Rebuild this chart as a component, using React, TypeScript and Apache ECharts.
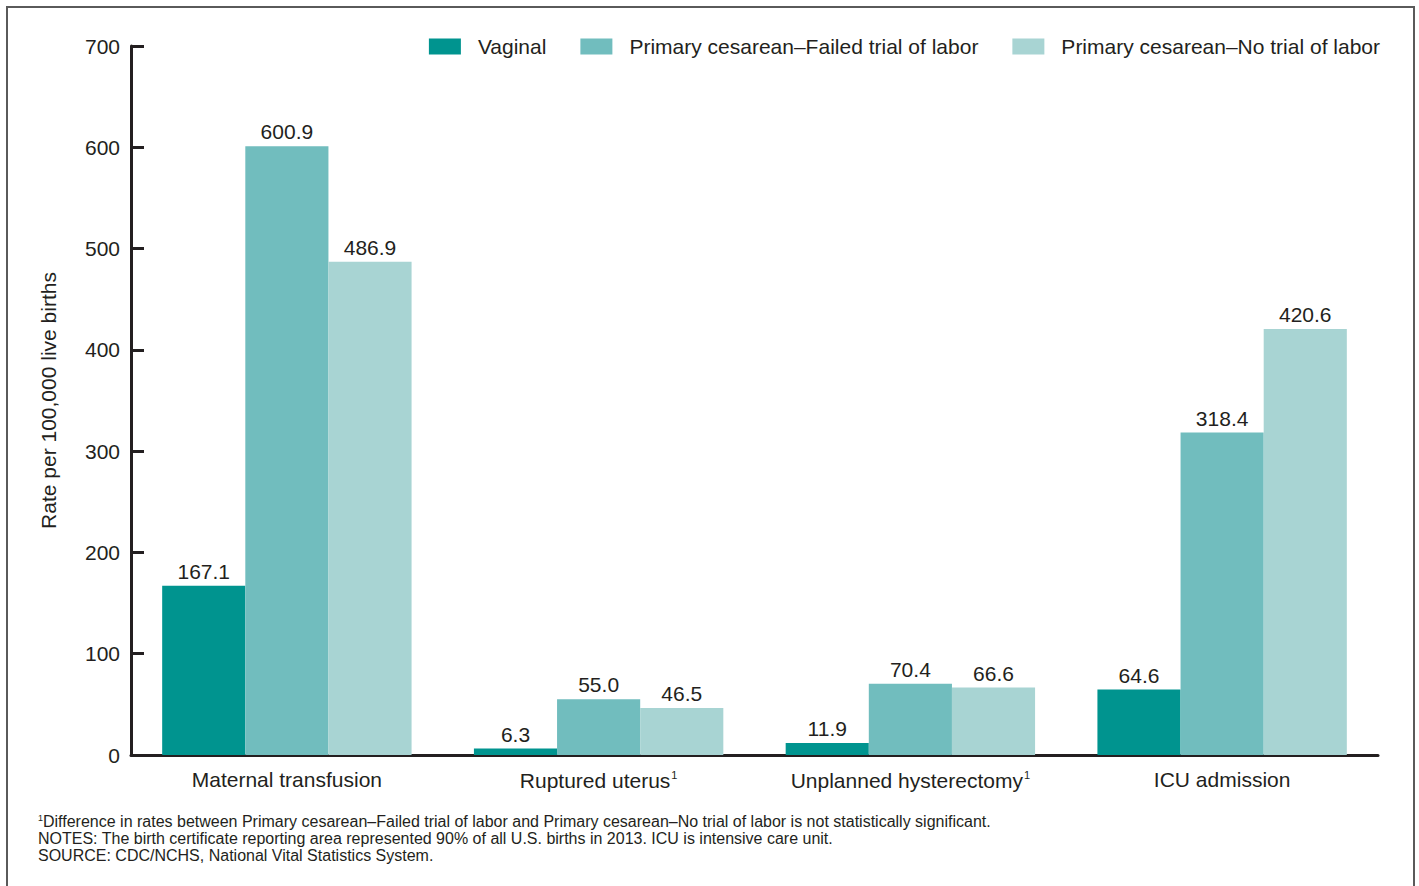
import React, { useEffect, useRef } from "react";
import * as echarts from "echarts";

const categories = [
  "Maternal transfusion",
  "Ruptured uterus{sup|1}",
  "Unplanned hysterectomy{sup|1}",
  "ICU admission",
];
const seriesNames = [
  "Vaginal",
  "Primary cesarean–Failed trial of labor",
  "Primary cesarean–No trial of labor",
];
const vaginal = [167.1, 6.3, 11.9, 64.6];
const failedTrial = [600.9, 55.0, 70.4, 318.4];
const noTrial = [486.9, 46.5, 66.6, 420.6];
const colors = ["#00948F", "#71BDBE", "#A8D4D3"];
const footnotes = [
  "NOTES: The birth certificate reporting area represented 90% of all U.S. births in 2013. ICU is intensive care unit.",
  "SOURCE: CDC/NCHS, National Vital Statistics System.",
];
const footnote1 =
  "Difference in rates between Primary cesarean–Failed trial of labor and Primary cesarean–No trial of labor is not statistically significant.";

const FONT = "'Liberation Sans', Arial, Helvetica, sans-serif";
const INK = "#231f20";
const FS = 21;

export default function App() {
  const ref = useRef<HTMLDivElement>(null);
  useEffect(() => {
    document.body.style.margin = "0";
    const chart = echarts.init(ref.current!, null, { renderer: "svg" });
    const seriesData = [vaginal, failedTrial, noTrial];
    chart.setOption({
      animation: false,
      textStyle: { fontFamily: FONT, color: INK },
      grid: { left: 131, right: 41, top: 46, bottom: 131, containLabel: false },
      legend: {
        right: 34,
        top: 31,
        itemWidth: 32,
        itemHeight: 16,
        itemGap: 34,
        icon: "rect",
        textStyle: { fontSize: FS, color: INK, fontFamily: FONT, padding: [0, 0, 0, 12] },
        data: seriesNames,
      },
      xAxis: {
        type: "category",
        data: categories,
        axisLine: { lineStyle: { color: INK, width: 3 } },
        axisTick: { show: false },
        axisLabel: {
          interval: 0,
          fontSize: FS,
          color: INK,
          margin: 14,
          fontFamily: FONT,
          rich: {
            sup: { fontSize: 11, verticalAlign: "top", padding: [0, 0, 11, 1], color: INK, fontFamily: FONT },
          },
        },
      },
      yAxis: {
        type: "value",
        min: 0,
        max: 700,
        interval: 100,
        name: "Rate per 100,000 live births",
        nameLocation: "middle",
        nameGap: 72,
        nameTextStyle: { fontSize: FS, color: INK, fontFamily: FONT },
        axisLine: { show: true, lineStyle: { color: INK, width: 3 } },
        axisTick: { show: true, inside: true, length: 13, lineStyle: { color: INK, width: 3 } },
        axisLabel: { fontSize: FS, color: INK, margin: 11, fontFamily: FONT },
        splitLine: { show: false },
      },
      series: seriesNames.map((name, i) => ({
        name,
        type: "bar",
        data: seriesData[i],
        barGap: "0%",
        barCategoryGap: "20%",
        itemStyle: { color: colors[i] },
        label: {
          show: true,
          position: "top",
          distance: 4,
          fontSize: FS,
          color: INK,
          fontFamily: FONT,
          formatter: (p: any) => Number(p.value).toFixed(1),
        },
      })),
      graphic: [
        {
          type: "rect",
          shape: { x: 7, y: 7, width: 1407, height: 900 },
          style: { fill: "none", stroke: "#5a5a5a", lineWidth: 2 },
          silent: true,
        },
        {
          type: "text",
          left: 38,
          top: 813,
          style: {
            text: "{sup|1}" + footnote1,
            fontSize: 16,
            fill: INK,
            fontFamily: FONT,
            rich: {
              sup: { fontSize: 9, verticalAlign: "top", padding: [0, 0, 7, 0], fill: INK, fontFamily: FONT },
            },
          },
        },
        {
          type: "text",
          left: 38,
          top: 830,
          style: { text: footnotes[0], fontSize: 16, fill: INK, fontFamily: FONT },
        },
        {
          type: "text",
          left: 38,
          top: 847,
          style: { text: footnotes[1], fontSize: 16, fill: INK, fontFamily: FONT },
        },
      ],
    });
    return () => chart.dispose();
  }, []);
  return <div ref={ref} style={{ width: 1419, height: 886 }} />;
}
